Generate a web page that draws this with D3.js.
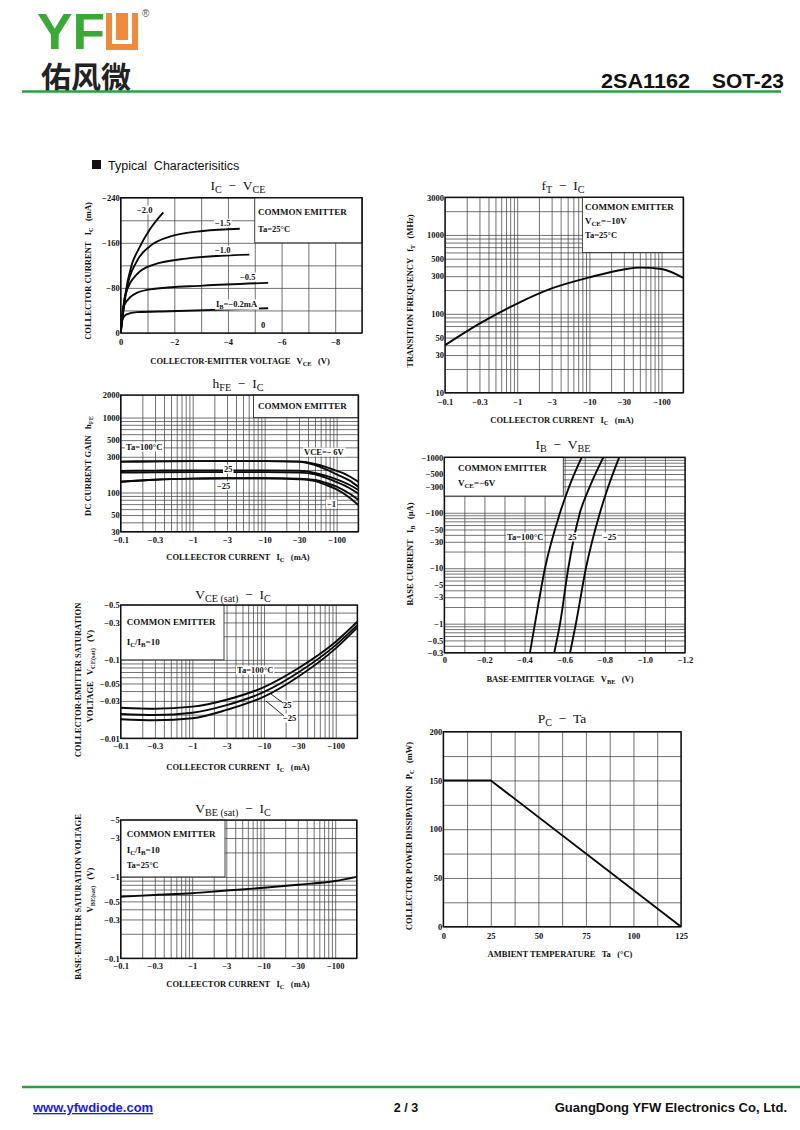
<!DOCTYPE html>
<html>
<head>
<meta charset="utf-8">
<script src="https://cdn.jsdelivr.net/npm/d3@7"></script>
<style>
  body { margin: 0; background: #fff; }
</style>
</head>
<body>
<svg id="page" width="800" height="1130"></svg>
<script>
// ---- IC - VCE (values are magnitudes: -V, -mA)
const vceIb20 = [0, 0.16, 0.41, 0.66, 1.09, 1.59];
const icIb20  = [0, 65, 121, 148, 184, 214];
const vceIb15 = [0, 0.22, 0.6, 1.09, 1.83, 3.07, 4.44];
const icIb15  = [0, 77, 127, 154, 171, 181, 185];
const vceIb10 = [0, 0.16, 0.6, 1.21, 2.45, 4.8];
const icIb10  = [0, 65, 104, 121, 132, 139];
const vceIb05 = [0, 0.1, 0.6, 1.2, 3.07, 5.5];
const icIb05  = [0, 47, 71, 78, 84, 89];
const vceIb02 = [0, 0.04, 0.22, 0.6, 1.83, 5.5];
const icIb02  = [0, 21, 33, 37, 38.5, 44];
const icVceXTicks = [0, 2, 4, 6, 8];
const icVceYTicks = [0, 80, 160, 240];

// ---- hFE - IC
const hfeIc    = [0.1, 0.3, 1, 3, 10, 30, 50, 70, 100, 150, 200];
const hfe100v6 = [258, 260, 262, 262, 262, 260, 240, 220, 195, 165, 139];
const hfe100v1 = [258, 260, 262, 262, 262, 256, 232, 205, 175, 145, 119];
const hfe25v6  = [194, 196, 197, 197, 197, 195, 182, 168, 150, 127, 108];
const hfe25v1  = [184, 186, 187, 187, 187, 184, 175, 158, 138, 115, 97];
const hfeM25v6 = [139, 148, 153, 155, 155, 153, 147, 135, 120, 97, 80];
const hfeM25v1 = [139, 148, 153, 155, 155, 150, 142, 127, 110, 86, 68];
const hfeYTicks = [30, 50, 100, 300, 500, 1000, 2000];

// ---- VCE(sat) - IC
const satIc      = [0.1, 0.3, 1, 3, 10, 30, 100, 200];
const vceSat100  = [0.0245, 0.0238, 0.0253, 0.031, 0.045, 0.078, 0.17, 0.306];
const vceSat25   = [0.0204, 0.0198, 0.0212, 0.0265, 0.039, 0.069, 0.154, 0.277];
const vceSatM25  = [0.0175, 0.0170, 0.018, 0.023, 0.034, 0.061, 0.14, 0.257];
const vceSatYTicks = [0.01, 0.03, 0.05, 0.1, 0.3, 0.5];

// ---- VBE(sat) - IC
const vbeSatIc = [0.1, 0.3, 1, 3, 10, 30, 100, 200];
const vbeSat   = [0.57, 0.6, 0.63, 0.68, 0.735, 0.8, 0.89, 1.0];
const vbeSatYTicks = [0.1, 0.3, 0.5, 1, 3, 5];

// ---- fT - IC
const ftIc  = [0.1, 0.3, 1, 3, 10, 30, 50, 100, 200];
const ftVal = [40, 75, 135, 210, 290, 365, 385, 370, 285];
const ftYTicks = [10, 30, 50, 100, 300, 500, 1000, 3000];

// ---- IB - VBE (IB in -uA, VBE in -V)
const ibVals = [0.3, 1, 10, 100, 300, 1000];
const vbe100 = [0.427, 0.452, 0.502, 0.577, 0.623, 0.685];
const vbe25  = [0.548, 0.577, 0.618, 0.676, 0.726, 0.793];
const vbeM25 = [0.627, 0.656, 0.706, 0.776, 0.818, 0.872];
const ibYTicks = [0.3, 0.5, 1, 3, 5, 10, 30, 50, 100, 300, 500, 1000];
const vbeXTicks = [0, 0.2, 0.4, 0.6, 0.8, 1.0, 1.2];

// ---- PC - Ta
const taVals = [0, 25, 125];
const pcVals = [150, 150, 0];
const taTicks = [0, 25, 50, 75, 100, 125];
const pcTicks = [0, 50, 100, 150, 200];

const logIcTicks = [0.1, 0.3, 1, 3, 10, 30, 100];

const serif = '"Liberation Serif","DejaVu Serif",serif';
const sans = '"Liberation Sans",Arial,sans-serif';
const svg = d3.select('#page');
const neg = d => d === 0 ? '0' : '\u2212' + d;
const neg1 = d => d === 0 ? '0' : '\u2212' + d.toFixed(1);

// text with subscripts: parts starting with '_' are lowered
function rich(g, x, y, parts, o = {}) {
  const size = o.size || 9;
  const t = g.append('text').attr('x', x).attr('y', y)
    .attr('font-family', o.family || serif).attr('font-size', size)
    .attr('font-weight', o.weight || 'bold').attr('text-anchor', o.anchor || 'start')
    .attr('fill', o.fill || '#111').style('white-space', 'pre');
  if (o.rotate) t.attr('transform', `rotate(-90,${x},${y})`);
  let low = false;
  parts.forEach(p => {
    const sub = p[0] === '_';
    const ts = t.append('tspan').text(sub ? p.slice(1) : p);
    if (sub) ts.attr('font-size', size * 0.75);
    if (sub !== low) ts.attr('dy', (sub ? 1 : -1) * size * 0.25);
    low = sub;
  });
  if (o.bg) {
    const b = t.node().getBBox();
    g.insert('rect', () => t.node())
      .attr('x', b.x - 1).attr('y', b.y + 0.5).attr('width', b.width + 2).attr('height', b.height - 1)
      .attr('fill', '#fff');
  }
  return t;
}

let clipId = 0;
function panel(o) {
  const g = svg.append('g');
  const x = o.x, y = o.y;
  const [xl, xr] = x.range();
  const [yb, yt] = y.range();
  const w = xr - xl, h = yb - yt;

  const gx = g.append('g').attr('transform', `translate(0,${yb})`)
    .call(d3.axisBottom(x).tickValues(o.xGrid).tickSize(-h).tickFormat(''));
  const gy = g.append('g').attr('transform', `translate(${xl},0)`)
    .call(d3.axisLeft(y).tickValues(o.yGrid).tickSize(-w).tickFormat(''));
  [gx, gy].forEach(s => {
    s.select('.domain').remove();
    s.selectAll('line').attr('stroke', '#444').attr('stroke-width', 0.75);
  });

  if (o.box) {
    g.append('rect').attr('x', o.box[0]).attr('y', o.box[1])
      .attr('width', o.box[2] - o.box[0]).attr('height', o.box[3] - o.box[1])
      .attr('fill', '#fff').attr('stroke', '#333').attr('stroke-width', 0.9);
  }

  g.append('rect').attr('x', xl).attr('y', yt).attr('width', w).attr('height', h)
    .attr('fill', 'none').attr('stroke', '#111').attr('stroke-width', 1.4);

  const ax = g.append('g').attr('transform', `translate(0,${yb})`)
    .call(d3.axisBottom(x).tickValues(o.xTicks).tickSize(0).tickPadding(o.xPad || 5).tickFormat(o.xFmt));
  const ay = g.append('g').attr('transform', `translate(${xl},0)`)
    .call(d3.axisLeft(y).tickValues(o.yTicks).tickSize(0).tickPadding(1).tickFormat(o.yFmt));
  [ax, ay].forEach(s => {
    s.select('.domain').remove();
    s.attr('font-family', serif).attr('font-size', 8.5).attr('font-weight', 'bold');
    s.selectAll('text').attr('fill', '#111');
  });

  const id = 'clip' + (clipId++);
  g.append('clipPath').attr('id', id).append('rect')
    .attr('x', xl).attr('y', yt).attr('width', w).attr('height', h);
  const plot = g.append('g').attr('clip-path', `url(#${id})`);
  const line = d3.line().x(d => x(d[0])).y(d => y(d[1]))
    .curve(o.linear ? d3.curveLinear : d3.curveMonotoneX);
  o.series.forEach(s => {
    plot.append('path').attr('d', line(d3.zip(s[0], s[1])))
      .attr('fill', 'none').attr('stroke', '#0a0a0a').attr('stroke-width', 1.9)
      .attr('stroke-linejoin', 'round');
  });

  rich(g, o.title[0], o.title[1], o.title[2], { size: 13.5, weight: 'normal', anchor: 'middle' });
  rich(g, o.xLabel[0], o.xLabel[1], o.xLabel[2], { size: 8.5, anchor: 'middle' });
  o.yLabel.forEach(l => rich(g, l[0], l[1], l[2], { size: 8.5, anchor: 'middle', rotate: true }));
  (o.boxText || []).forEach(l => rich(g, l[0], l[1], l[2], { size: l[3] || 9 }));
  (o.notes || []).forEach(l => rich(g, l[0], l[1], l[2], { size: 8.5, bg: true, anchor: l[3] || 'start' }));
  return { g, x, y };
}

// ---------- header ----------
svg.append('text').attr('x', 37).attr('y', 49).text('YF')
  .attr('font-family', sans).attr('font-weight', 'bold').attr('font-size', 50)
  .attr('textLength', 68).attr('lengthAdjust', 'spacingAndGlyphs').attr('fill', '#3aa935');
svg.append('rect').attr('x', 106).attr('y', 13).attr('width', 32).attr('height', 37).attr('fill', '#ef8a3b');
svg.append('rect').attr('x', 112).attr('y', 13).attr('width', 20).attr('height', 31).attr('fill', '#fff');
svg.append('rect').attr('x', 116).attr('y', 13).attr('width', 12).attr('height', 27).attr('fill', '#ef8a3b');
svg.append('text').attr('x', 142).attr('y', 17).text('\u00ae')
  .attr('font-family', sans).attr('font-size', 10).attr('fill', '#555');
svg.append('text').attr('x', 41).attr('y', 88).text('佑风微')
  .attr('font-family', '"Noto Sans CJK SC",sans-serif').attr('font-weight', 700)
  .attr('font-size', 30).attr('fill', '#222');
svg.append('text').attr('x', 601).attr('y', 88).text('2SA1162')
  .attr('font-family', sans).attr('font-weight', 'bold').attr('font-size', 21)
  .attr('textLength', 89).attr('lengthAdjust', 'spacingAndGlyphs').attr('fill', '#111');
svg.append('text').attr('x', 712).attr('y', 88).text('SOT-23')
  .attr('font-family', sans).attr('font-weight', 'bold').attr('font-size', 21)
  .attr('textLength', 72).attr('lengthAdjust', 'spacingAndGlyphs').attr('fill', '#111');
svg.append('line').attr('x1', 22).attr('x2', 781).attr('y1', 91.5).attr('y2', 91.5)
  .attr('stroke', '#2f9e3f').attr('stroke-width', 2.5);

svg.append('rect').attr('x', 92).attr('y', 160).attr('width', 9).attr('height', 9).attr('fill', '#111');
svg.append('text').attr('x', 108).attr('y', 170).text('Typical  Characterisitics')
  .attr('font-family', sans).attr('font-size', 12.5).attr('fill', '#111').style('white-space', 'pre');

// ---------- footer ----------
svg.append('line').attr('x1', 22).attr('x2', 800).attr('y1', 1087).attr('y2', 1087)
  .attr('stroke', '#2f9e3f').attr('stroke-width', 2.5);
svg.append('text').attr('x', 33).attr('y', 1112).text('www.yfwdiode.com')
  .attr('font-family', sans).attr('font-weight', 'bold').attr('font-size', 13)
  .attr('fill', '#1a1aee').attr('text-decoration', 'underline');
svg.append('text').attr('x', 406).attr('y', 1112).text('2 / 3').attr('text-anchor', 'middle')
  .attr('font-family', sans).attr('font-weight', 'bold').attr('font-size', 12.5).attr('fill', '#111')
  .style('white-space', 'pre');
svg.append('text').attr('x', 787).attr('y', 1112).text('GuangDong YFW Electronics Co, Ltd.')
  .attr('text-anchor', 'end').attr('font-family', sans).attr('font-weight', 'bold')
  .attr('font-size', 13).attr('fill', '#111');

// ---------- IC - VCE ----------
{
  const x = d3.scaleLinear().domain([0, 9]).range([120.7, 362]);
  const y = d3.scaleLinear().domain([0, 240]).range([333, 197.7]);
  panel({
    x, y, xGrid: d3.range(0, 10), yGrid: d3.range(0, 241, 40),
    xTicks: icVceXTicks, yTicks: icVceYTicks, xFmt: neg, yFmt: neg, xPad: 6,
    box: [x(5), y(240), x(9), y(160)],
    series: [[vceIb20, icIb20], [vceIb15, icIb15], [vceIb10, icIb10], [vceIb05, icIb05], [vceIb02, icIb02]],
    title: [238, 190, ['I', '_C', '  \u2212  V', '_CE']],
    xLabel: [240, 364, ['COLLECTOR-EMITTER VOLTAGE   V', '_CE', '   (V)']],
    yLabel: [[91, 271, ['COLLECTOR CURRENT   I', '_C', '   (mA)']]],
    boxText: [[258, 215, ['COMMON EMITTER']], [258, 232, ['Ta=25\u00b0C'], 8.5]],
    notes: [[137, 213, ['\u22122.0']], [215, 226, ['\u22121.5']], [215, 253, ['\u22121.0']],
            [240, 280, ['\u22120.5']], [216, 307, ['I', '_B', '=\u22120.2mA']], [261, 328, ['0']]]
  });
}

// ---------- hFE - IC ----------
{
  const x = d3.scaleLog().domain([0.1, 200]).range([120.7, 358.3]);
  const y = d3.scaleLog().domain([30, 2000]).range([531.7, 395]);
  panel({
    x, y, xGrid: x.ticks(), yGrid: y.ticks(),
    xTicks: logIcTicks, yTicks: hfeYTicks, xFmt: neg, yFmt: d => d,
    box: [x(7), y(2000), x(200), y(1000)],
    series: [[hfeIc, hfe100v6], [hfeIc, hfe100v1], [hfeIc, hfe25v6], [hfeIc, hfe25v1], [hfeIc, hfeM25v6], [hfeIc, hfeM25v1]],
    title: [238, 388, ['h', '_FE', '  \u2212  I', '_C']],
    xLabel: [238, 560, ['COLLEECTOR CURRENT   I', '_C', '   (mA)']],
    yLabel: [[91, 466, ['DC CURRENT GAIN   h', '_FE']]],
    boxText: [[258, 409, ['COMMON EMITTER']]],
    notes: [[126, 450, ['Ta=100\u00b0C']], [224, 472, ['25']], [217, 489, ['\u221225']],
            [304, 455, ['VCE=\u2212\u20096V']], [327, 507, ['\u22121']]]
  });
}

// ---------- VCE(sat) - IC ----------
{
  const x = d3.scaleLog().domain([0.1, 200]).range([120.7, 357.3]);
  const y = d3.scaleLog().domain([0.01, 0.5]).range([738.3, 605]);
  const p = panel({
    x, y, xGrid: x.ticks(), yGrid: y.ticks(),
    xTicks: logIcTicks, yTicks: vceSatYTicks, xFmt: neg, yFmt: neg,
    box: [120.7, 605, 224, y(0.1)],
    series: [[satIc, vceSat100], [satIc, vceSat25], [satIc, vceSatM25]],
    title: [233, 599, ['V', '_CE (sat)', '  \u2212  I', '_C']],
    xLabel: [238, 770, ['COLLEECTOR CURRENT   I', '_C', '   (mA)']],
    yLabel: [[81, 680, ['COLLECTOR-EMITTER SATURATION']], [93, 676, ['VOLTAGE   V', '_CE(sat)', '   (V)']]],
    boxText: [[126.7, 625, ['COMMON EMITTER']], [126.7, 645, ['I', '_C', '/I', '_B', '=10']]],
    notes: [[237, 673, ['Ta=100\u00b0C']], [283, 708, ['25']], [283, 721, ['\u221225']]]
  });
  p.g.append('line').attr('x1', 271).attr('y1', 694).attr('x2', 283).attr('y2', 703)
    .attr('stroke', '#111').attr('stroke-width', 0.9);
  p.g.append('line').attr('x1', 266).attr('y1', 701).attr('x2', 284).attr('y2', 716)
    .attr('stroke', '#111').attr('stroke-width', 0.9);
}

// ---------- VBE(sat) - IC ----------
{
  const x = d3.scaleLog().domain([0.1, 200]).range([120.7, 356.7]);
  const y = d3.scaleLog().domain([0.1, 5]).range([958.3, 820]);
  panel({
    x, y, xGrid: x.ticks(), yGrid: y.ticks(),
    xTicks: logIcTicks, yTicks: vbeSatYTicks, xFmt: neg, yFmt: neg,
    box: [120.7, 820, 225, y(1)],
    series: [[vbeSatIc, vbeSat]],
    title: [233, 813, ['V', '_BE (sat)', '  \u2212  I', '_C']],
    xLabel: [238, 987, ['COLLEECTOR CURRENT   I', '_C', '   (mA)']],
    yLabel: [[81, 897, ['BASE-EMITTER SATURATION VOLTAGE']], [93, 890, ['V', '_BE(sat)', '   (V)']]],
    boxText: [[126.7, 837, ['COMMON EMITTER']], [126.7, 853, ['I', '_C', '/I', '_B', '=10']], [126.7, 868, ['Ta=25\u00b0C'], 8.5]],
    notes: []
  });
}

// ---------- fT - IC ----------
{
  const x = d3.scaleLog().domain([0.1, 200]).range([445, 683.3]);
  const y = d3.scaleLog().domain([10, 3000]).range([392.7, 197.3]);
  panel({
    x, y, xGrid: x.ticks(), yGrid: y.ticks(),
    xTicks: logIcTicks, yTicks: ftYTicks, xFmt: neg, yFmt: d => d, xPad: 6,
    box: [x(8), y(3000), x(200), y(600)],
    series: [[ftIc, ftVal]],
    title: [563, 190, ['f', '_T', '  \u2212  I', '_C']],
    xLabel: [562, 423, ['COLLEECTOR CURRENT   I', '_C', '   (mA)']],
    yLabel: [[413, 291, ['TRANSITION FREQUENCY   f', '_T', '   (MHz)']]],
    boxText: [[585, 210, ['COMMON EMITTER']], [585, 224, ['V', '_CE', '=\u221210V']], [585, 238, ['Ta=25\u00b0C'], 8.5]],
    notes: []
  });
}

// ---------- IB - VBE ----------
{
  const x = d3.scaleLinear().domain([0, 1.2]).range([444.3, 685]);
  const y = d3.scaleLog().domain([0.3, 1000]).range([652.7, 457.3]);
  panel({
    x, y, xGrid: d3.range(0, 12.5, 1).map(d => d / 10), yGrid: y.ticks(),
    xTicks: vbeXTicks, yTicks: ibYTicks, xFmt: neg1, yFmt: neg, xPad: 4,
    box: [444.3, 457.3, 563.3, y(200)],
    series: [[vbe100, ibVals], [vbe25, ibVals], [vbeM25, ibVals]],
    title: [563, 449, ['I', '_B', '  \u2212  V', '_BE']],
    xLabel: [560, 682, ['BASE-EMITTER VOLTAGE   V', '_BE', '   (V)']],
    yLabel: [[413, 554, ['BASE CURRENT   I', '_B', '   (\u03bcA)']]],
    boxText: [[458, 471, ['COMMON EMITTER']], [458, 486, ['V', '_CE', '=\u22126V']]],
    notes: [[507, 540, ['Ta=100\u00b0C']], [568, 540, ['25']], [603, 540, ['\u221225']]]
  });
}

// ---------- PC - Ta ----------
{
  const x = d3.scaleLinear().domain([0, 125]).range([443.3, 681]);
  const y = d3.scaleLinear().domain([0, 200]).range([926.7, 731.7]);
  panel({
    x, y, xGrid: d3.range(0, 11).map(d => d * 12.5), yGrid: d3.range(0, 9).map(d => d * 25),
    xTicks: taTicks, yTicks: pcTicks, xFmt: d => d, yFmt: d => d, xPad: 6, linear: true,
    series: [[taVals, pcVals]],
    title: [562, 723, ['P', '_C', '  \u2212  Ta']],
    xLabel: [560, 957, ['AMBIENT TEMPERATURE   Ta   (\u00b0C)']],
    yLabel: [[412, 836, ['COLLECTOR POWER DISSIPATION   P', '_C', '   (mW)']]],
    notes: []
  });
}
</script>
</body>
</html>
